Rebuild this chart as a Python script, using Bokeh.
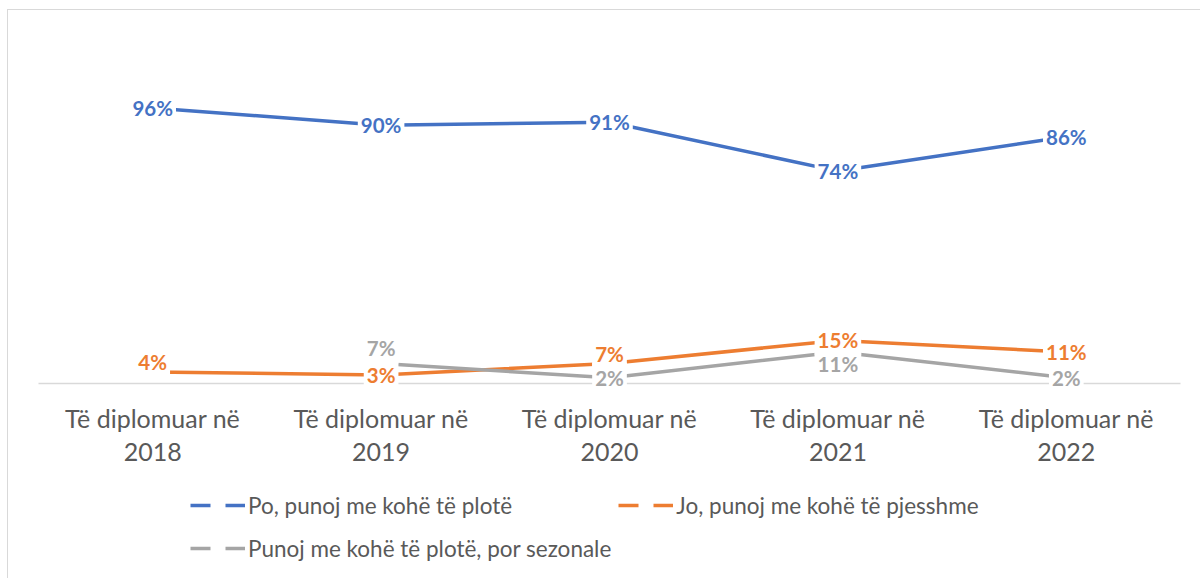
from bokeh.plotting import figure
from bokeh.models import ColumnDataSource, Range1d, FactorRange, Legend, LegendItem
from bokeh.layouts import column
from bokeh.core.properties import value
from bokeh.embed import file_html
from bokeh.resources import INLINE
import math

categories = ["Të diplomuar në\n2018", "Të diplomuar në\n2019", "Të diplomuar në\n2020",
              "Të diplomuar në\n2021", "Të diplomuar në\n2022"]
series_names = ["Po, punoj me kohë të plotë", "Jo, punoj me kohë të pjesshme",
                "Punoj me kohë të plotë, por sezonale"]
full_time = [96, 90, 91, 74, 86]
part_time = [4, 3, 7, 15, 11]
seasonal = [float("nan"), 7, 2, 11, 2]

colors = ["#4472C4", "#ED7D31", "#A5A5A5"]
label_offsets = [[0, 0, 0, 0, 0], [-10, 0, -9, 0, 0], [0, -15, 0, 12, 0]]

FONT = "Lato"

p = figure(x_range=FactorRange(*categories, range_padding=0), y_range=Range1d(0, 119.5),
           width=1192, height=470, output_backend="svg", toolbar_location=None,
           min_border_left=30, min_border_right=20, min_border_top=30, min_border_bottom=97)
p.outline_line_color = None
p.xgrid.visible = False
p.ygrid.visible = False
p.yaxis.visible = False

ax = p.xaxis[0]
ax.axis_line_color = "#D9D9D9"
ax.axis_line_width = 1.5
ax.major_tick_line_color = None
ax.minor_tick_line_color = None
ax.major_label_text_font = FONT
ax.major_label_text_font_size = "25px"
ax.major_label_text_color = "#595959"
ax.major_label_text_line_height = 1.1
ax.major_label_standoff = 13

all_series = [full_time, part_time, seasonal]
for vals, col, offs in zip(all_series, colors, label_offsets):
    src = ColumnDataSource(dict(x=categories, y=vals))
    p.line("x", "y", source=src, line_color=col, line_width=3.5)
for vals, col, offs in zip(all_series, colors, label_offsets):
    lab = [f"{v:.0f}%" if not math.isnan(v) else "" for v in vals]
    lsrc = ColumnDataSource(dict(x=categories, y=vals, t=lab, dy=offs))
    r = p.text("x", "y", text="t", y_offset="dy", source=lsrc, text_align="center",
               text_baseline="middle", text_font=value(FONT), text_font_style="bold",
               text_font_size="20.5px", text_color=col, background_fill_color="white",
               padding=3)
    r.level = "overlay"

# legend panel
p2 = figure(x_range=Range1d(0, 1), y_range=Range1d(0, 1), width=1192, height=98,
            output_backend="svg", toolbar_location=None, min_border=0,
            x_axis_location=None, y_axis_location=None)
p2.outline_line_color = None
p2.xgrid.visible = False
p2.ygrid.visible = False

items = []
for name, col in zip(series_names, colors):
    r = p2.line(x=[-5.0, -4.0], y=[-5.0, -5.0], line_color=col, line_width=3.5,
                line_dash="20 15")
    items.append(LegendItem(label=name, renderers=[r]))

legend = Legend(items=items, orientation="horizontal", ncols=2, nrows=2,
                glyph_width=55, glyph_height=20, label_height=36, label_width=362,
                label_standoff=3, spacing=7, padding=0, margin=0,
                border_line_color=None, background_fill_alpha=0,
                label_text_font=FONT, label_text_font_size="22.5px",
                label_text_color="#595959", location=(152, 12))
p2.add_layout(legend, "center")

layout = column(p, p2, spacing=0)
layout.styles = {"margin-left": "7px", "margin-top": "9px",
                 "border-left": "1px solid #D9D9D9", "border-top": "1px solid #D9D9D9"}

open("out.html", "w").write(file_html(layout, INLINE))
